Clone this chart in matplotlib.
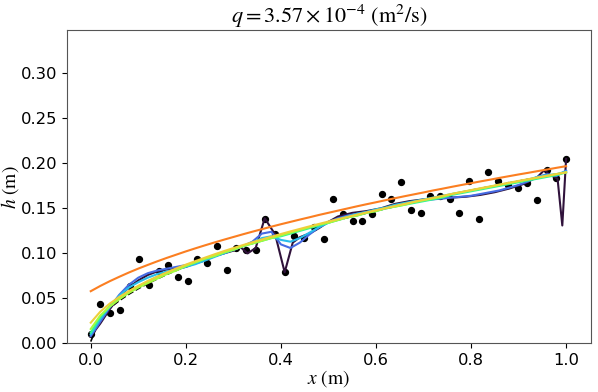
import numpy as np
import matplotlib
matplotlib.use('Agg')
import matplotlib.pyplot as plt

plt.rcParams['font.family'] = 'DejaVu Sans'
plt.rcParams['mathtext.fontset'] = 'stix'

# observed depths (black dots)
x_obs = np.linspace(0, 1, 50)
h_obs = [0.010, 0.044, 0.034, 0.037, 0.064, 0.094, 0.065, 0.080, 0.087, 0.074,
         0.069, 0.094, 0.089, 0.108, 0.081, 0.106, 0.104, 0.104, 0.138, 0.122,
         0.079, 0.119, 0.117, 0.129, 0.116, 0.160, 0.144, 0.136, 0.136, 0.144,
         0.166, 0.160, 0.179, 0.148, 0.145, 0.164, 0.164, 0.160, 0.145, 0.180,
         0.138, 0.190, 0.180, 0.176, 0.173, 0.178, 0.159, 0.193, 0.184, 0.205]

# reconstructed profiles on a common grid
x_fit = np.linspace(0, 1, 51)
h_true = [0.002, 0.0286, 0.0392, 0.0475, 0.0546, 0.0608, 0.0665, 0.0717, 0.0766, 0.0811,
          0.0854, 0.0896, 0.0935, 0.0973, 0.1009, 0.1044, 0.1078, 0.1111, 0.1143, 0.1174,
          0.1204, 0.1234, 0.1263, 0.1291, 0.1318, 0.1345, 0.1372, 0.1398, 0.1423, 0.1448,
          0.1473, 0.1497, 0.1521, 0.1545, 0.1568, 0.1591, 0.1613, 0.1635, 0.1657, 0.1679,
          0.1700, 0.1721, 0.1742, 0.1762, 0.1783, 0.1803, 0.1823, 0.1842, 0.1862, 0.1881,
          0.1900]
h_blue = [0.008, 0.024, 0.040, 0.054, 0.065, 0.073, 0.078, 0.081, 0.083, 0.085,
          0.087, 0.089, 0.093, 0.097, 0.100, 0.104, 0.108, 0.113, 0.122, 0.124,
          0.110, 0.106, 0.112, 0.121, 0.129, 0.135, 0.139, 0.142, 0.144, 0.146,
          0.148, 0.150, 0.153, 0.155, 0.157, 0.159, 0.160, 0.161, 0.162, 0.163,
          0.164, 0.166, 0.168, 0.170, 0.173, 0.176, 0.180, 0.185, 0.188, 0.186,
          0.192]
h_lightblue = [0.010, 0.027, 0.041, 0.053, 0.062, 0.068, 0.073, 0.077, 0.080, 0.082,
               0.085, 0.088, 0.092, 0.096, 0.100, 0.104, 0.108, 0.112, 0.117, 0.119,
               0.115, 0.113, 0.117, 0.123, 0.129, 0.134, 0.138, 0.141, 0.144, 0.146,
               0.149, 0.151, 0.154, 0.156, 0.158, 0.160, 0.162, 0.164, 0.166, 0.168,
               0.170, 0.172, 0.174, 0.176, 0.178, 0.180, 0.182, 0.185, 0.187, 0.188,
               0.191]
h_cyan = [0.012, 0.029, 0.041, 0.050, 0.057, 0.063, 0.069, 0.074, 0.078, 0.082,
          0.086, 0.090, 0.094, 0.097, 0.101, 0.104, 0.108, 0.111, 0.114, 0.117,
          0.119, 0.122, 0.125, 0.128, 0.131, 0.134, 0.137, 0.140, 0.142, 0.145,
          0.147, 0.150, 0.152, 0.154, 0.156, 0.158, 0.160, 0.162, 0.165, 0.167,
          0.169, 0.171, 0.173, 0.175, 0.177, 0.179, 0.181, 0.183, 0.185, 0.187,
          0.190]
h_green = [0.016, 0.031, 0.041, 0.049, 0.056, 0.062, 0.067, 0.072, 0.077, 0.081,
           0.086, 0.090, 0.094, 0.097, 0.101, 0.104, 0.108, 0.111, 0.114, 0.117,
           0.120, 0.123, 0.126, 0.129, 0.132, 0.134, 0.137, 0.140, 0.142, 0.145,
           0.147, 0.150, 0.152, 0.154, 0.157, 0.159, 0.161, 0.163, 0.166, 0.168,
           0.170, 0.172, 0.174, 0.176, 0.178, 0.180, 0.182, 0.184, 0.186, 0.188,
           0.190]
h_yellow = [0.023, 0.0352, 0.0442, 0.0516, 0.0581, 0.0640, 0.0693, 0.0742, 0.0789, 0.0833,
            0.0875, 0.0914, 0.0952, 0.0989, 0.1025, 0.1059, 0.1092, 0.1124, 0.1155, 0.1186,
            0.1215, 0.1244, 0.1272, 0.1300, 0.1327, 0.1354, 0.1380, 0.1405, 0.1431, 0.1455,
            0.1480, 0.1503, 0.1527, 0.1550, 0.1573, 0.1595, 0.1617, 0.1639, 0.1661, 0.1682,
            0.1703, 0.1724, 0.1744, 0.1765, 0.1785, 0.1805, 0.1824, 0.1844, 0.1863, 0.1882,
            0.1901]
h_orange = [0.058, 0.0638, 0.0691, 0.0740, 0.0787, 0.0831, 0.0872, 0.0912, 0.0950, 0.0986,
            0.1022, 0.1056, 0.1089, 0.1121, 0.1152, 0.1182, 0.1212, 0.1241, 0.1269, 0.1297,
            0.1324, 0.1350, 0.1376, 0.1401, 0.1427, 0.1451, 0.1475, 0.1499, 0.1523, 0.1546,
            0.1568, 0.1591, 0.1613, 0.1635, 0.1656, 0.1677, 0.1699, 0.1719, 0.1740, 0.1760,
            0.1780, 0.1800, 0.1819, 0.1839, 0.1858, 0.1877, 0.1895, 0.1914, 0.1932, 0.1951,
            0.1969]

# least regularised profile (oscillating one)
x_dark = [0.0, 0.02, 0.04, 0.06, 0.08, 0.10, 0.12, 0.14, 0.16, 0.18, 0.20, 0.22, 0.24,
          0.26, 0.28, 0.30, 0.315, 0.33, 0.347, 0.366, 0.388, 0.408, 0.425, 0.44, 0.46,
          0.48, 0.50, 0.52, 0.55, 0.58, 0.61, 0.64, 0.67, 0.70, 0.73, 0.76, 0.79, 0.82,
          0.85, 0.88, 0.91, 0.94, 0.955, 0.965, 0.975, 0.982, 0.992, 1.0]
h_dark = [0.008, 0.022, 0.038, 0.052, 0.062, 0.070, 0.076, 0.080, 0.082, 0.083, 0.085,
          0.089, 0.092, 0.097, 0.100, 0.103, 0.107, 0.100, 0.106, 0.139, 0.121, 0.079,
          0.112, 0.118, 0.122, 0.128, 0.135, 0.141, 0.145, 0.147, 0.150, 0.155, 0.158,
          0.160, 0.161, 0.162, 0.163, 0.165, 0.168, 0.172, 0.177, 0.185, 0.193, 0.187,
          0.185, 0.183, 0.131, 0.205]

fits = [h_blue, h_lightblue, h_cyan, h_green, h_yellow, h_orange]
colors = plt.cm.turbo(np.linspace(0, 0.75, 7))

fig = plt.figure(figsize=(5.98, 3.92), dpi=100)
ax = fig.add_axes([0.112, 0.124, 0.876, 0.799])

ax.scatter(x_obs, h_obs, s=18, color='black', zorder=2)
ax.plot(x_fit, h_true, 'k--', linewidth=1.2, zorder=3)
ax.plot(x_dark, h_dark, color=colors[0], linewidth=1.5, zorder=4)
for i, h in enumerate(fits):
    ax.plot(x_fit, h, color=colors[i + 1], linewidth=1.5, zorder=4)

ax.set_xlim(-0.05, 1.052)
ax.set_ylim(0, 0.348)
ax.set_yticks([0, 0.05, 0.10, 0.15, 0.20, 0.25, 0.30])
ax.yaxis.set_major_formatter(matplotlib.ticker.FormatStrFormatter('%.2f'))
ax.tick_params(labelsize=11.8)
ax.set_xlabel(r'$x\ (\mathrm{m})$', fontsize=14, labelpad=0)
ax.set_ylabel(r'$h\ (\mathrm{m})$', fontsize=14, labelpad=0)
ax.set_title(r'$q = 3.57 \times 10^{-4}\ (\mathrm{m^2/s})$', fontsize=16, pad=4)
for s in ax.spines.values():
    s.set_color('#555555')

fig.savefig('out.png', dpi=100)
